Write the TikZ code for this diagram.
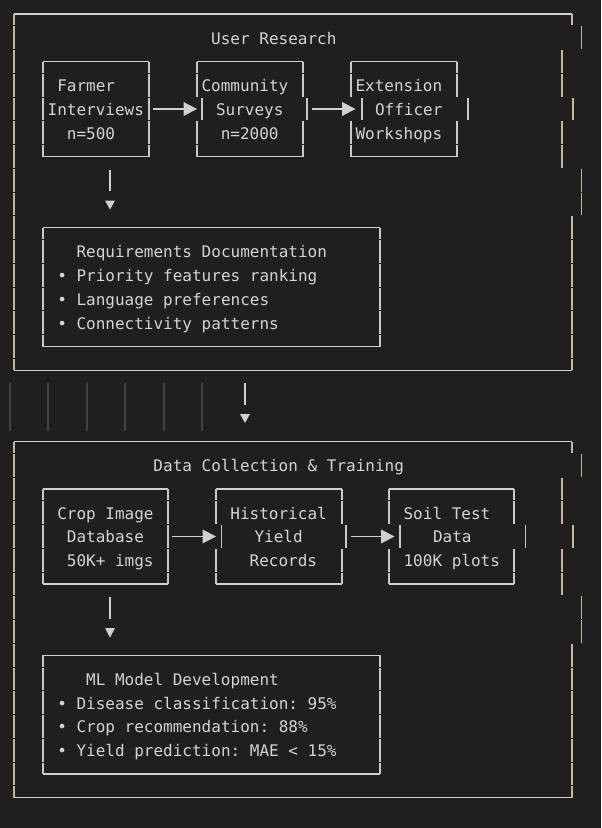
\documentclass[tikz,border=0pt]{standalone}
\usepackage{fontspec}
\setmonofont{DejaVu Sans Mono}
\usetikzlibrary{arrows.meta}
\definecolor{bg}{HTML}{1F1F1F}
\definecolor{txt}{HTML}{D4D4D4}
\definecolor{hcol}{HTML}{D0D0D0}
\definecolor{vcol}{HTML}{C4CAD0}
\definecolor{ocol}{HTML}{C8B898}
\definecolor{gcol}{HTML}{424242}
\newcommand\rowy[1]{14+23.75*(#1)}
\newcommand\cx[1]{9.19+9.62*(#1)}
\newcommand\vseg[3]{\draw[#1] (#2,{\rowy{#3}-11.3}) -- (#2,{\rowy{#3}+11.3});}
\newcommand\ascbox[5]{% style, x1, x2, row top, row bottom
  \draw[hl] (#2,{\rowy{#4}}) -- (#3,{\rowy{#4}});
  \draw[hl] (#2,{\rowy{#5}}) -- (#3,{\rowy{#5}});
  \draw[#1] (#2,{\rowy{#4}}) -- (#2,{\rowy{#4}+11.3});
  \draw[#1] (#3,{\rowy{#4}}) -- (#3,{\rowy{#4}+11.3});
  \draw[#1] (#2,{\rowy{#5}-11.3}) -- (#2,{\rowy{#5}});
  \draw[#1] (#3,{\rowy{#5}-11.3}) -- (#3,{\rowy{#5}});}
\newcommand\txt[4]{\node[lbl] (#1) at ({#2},{\rowy{#3}+6.3}) {#4};}
\begin{document}
\begin{tikzpicture}[x=0.75pt,y=-0.75pt,
  lbl/.style={anchor=base west,inner sep=0pt,outer sep=0pt,text=txt,
    font=\ttfamily\fontsize{12pt}{14pt}\selectfont},
  hl/.style={draw=hcol,line width=0.9pt},
  vl/.style={draw=vcol,line width=0.9pt},
  ol/.style={draw=ocol,line width=0.9pt},
  gl/.style={draw=gcol,line width=0.8pt},
  harrow/.style={hl,-{Triangle[length=10pt,width=10.2pt]}},
  dtri/.style={fill=hcol}]
\fill[bg] (0,0) rectangle (601,828);
\useasboundingbox (0,0) rectangle (601,828);

% ================= Section 1: outer frame =================
\ascbox{ol}{14}{572}{0}{15}
\foreach \r in {1,...,14} {\vseg{ol}{14}{\r}}
\vseg{ol}{581.5}{1}
\foreach \r in {2,3,5,6} {\vseg{ol}{562}{\r}}
\vseg{ol}{573}{4}
\vseg{ol}{581.5}{7}
\vseg{ol}{581.5}{8}
\foreach \r in {9,...,14} {\vseg{ol}{572}{\r}}

% inner boxes
\ascbox{vl}{43}{149}{2}{6}
\foreach \r in {3,4,5} {\vseg{vl}{43}{\r}\vseg{vl}{149}{\r}}
\ascbox{vl}{197}{303}{2}{6}
\foreach \r in {3,5} {\vseg{vl}{197}{\r}\vseg{vl}{303}{\r}}
\vseg{vl}{202}{4}\vseg{vl}{307}{4}
\ascbox{vl}{351}{457}{2}{6}
\foreach \r in {3,5} {\vseg{vl}{351}{\r}\vseg{vl}{457}{\r}}
\vseg{vl}{362}{4}\vseg{vl}{468}{4}
\ascbox{vl}{43}{380}{9}{14}
\foreach \r in {10,...,13} {\vseg{vl}{43}{\r}\vseg{vl}{380}{\r}}

% arrows
\coordinate (a1s) at (153,{\rowy{4}});
\coordinate (a1e) at (197,{\rowy{4}});
\draw[harrow] (a1s) -- (a1e);
\coordinate (a2s) at (312,{\rowy{4}});
\coordinate (a2e) at (355.5,{\rowy{4}});
\draw[harrow] (a2s) -- (a2e);
\coordinate (d1s) at (110,169.5);
\coordinate (d1e) at (110,191);
\draw[hl] (d1s) -- (d1e);
\fill[dtri] (105,200.5) -- (115,200.5) -- (110,209.5) -- cycle;

% texts
\txt{t1}{\cx{21}}{1}{User Research}
\txt{f1}{\cx{5}}{3}{Farmer}
\txt{f2}{\cx{4}}{4}{Interviews}
\txt{f3}{\cx{6}}{5}{n=500}
\txt{c1}{\cx{20}}{3}{Community}
\txt{c2}{216}{4}{Surveys}
\txt{c3}{\cx{22}}{5}{n=2000}
\txt{e1}{\cx{36}}{3}{Extension}
\txt{e2}{375}{4}{Officer}
\txt{e3}{\cx{36}}{5}{Workshops}
\txt{r0}{\cx{7}}{10}{Requirements Documentation}
\txt{rb1}{\cx{5}}{11}{•}
\txt{r1}{\cx{7}}{11}{Priority features ranking}
\txt{rb2}{\cx{5}}{12}{•}
\txt{r2}{\cx{7}}{12}{Language preferences}
\txt{rb3}{\cx{5}}{13}{•}
\txt{r3}{\cx{7}}{13}{Connectivity patterns}

% ================= between sections =================
\foreach \x in {10,48,87,125,164,202} {\draw[gl] (\x,383) -- (\x,431);}
\coordinate (m1s) at (245,383);
\coordinate (m1e) at (245,404.7);
\draw[hl] (m1s) -- (m1e);
\fill[dtri] (240,414) -- (250,414) -- (245,423) -- cycle;

% ================= Section 2: outer frame =================
\ascbox{ol}{14}{572}{18}{33}
\foreach \r in {19,...,32} {\vseg{ol}{14}{\r}}
\vseg{ol}{581.5}{19}
\foreach \r in {20,21,23,24} {\vseg{ol}{562}{\r}}
\vseg{ol}{573}{22}
\vseg{ol}{581.5}{25}
\vseg{ol}{581.5}{26}
\foreach \r in {27,...,32} {\vseg{ol}{572}{\r}}

% inner boxes
\ascbox{vl}{43}{168}{20}{24}
\foreach \r in {21,22,23} {\vseg{vl}{43}{\r}\vseg{vl}{168}{\r}}
\ascbox{vl}{216}{342}{20}{24}
\foreach \r in {21,23} {\vseg{vl}{216}{\r}\vseg{vl}{342}{\r}}
\vseg{vl}{221.7}{22}\vseg{vl}{346}{22}
\ascbox{vl}{389}{514}{20}{24}
\foreach \r in {21,23} {\vseg{vl}{389}{\r}\vseg{vl}{514}{\r}}
\vseg{vl}{400}{22}\vseg{vl}{525.7}{22}
\ascbox{vl}{43}{380}{27}{32}
\foreach \r in {28,...,31} {\vseg{vl}{43}{\r}\vseg{vl}{380}{\r}}

% arrows
\coordinate (a3s) at (172,{\rowy{22}});
\coordinate (a3e) at (216,{\rowy{22}});
\draw[harrow] (a3s) -- (a3e);
\coordinate (a4s) at (351,{\rowy{22}});
\coordinate (a4e) at (394.5,{\rowy{22}});
\draw[harrow] (a4s) -- (a4e);
\coordinate (d2s) at (110,597);
\coordinate (d2e) at (110,618.5);
\draw[hl] (d2s) -- (d2e);
\fill[dtri] (105,628) -- (115,628) -- (110,637.5) -- cycle;

% texts
\txt{t2}{\cx{15}}{19}{Data Collection \& Training}
\txt{p1}{\cx{5}}{21}{Crop Image}
\txt{p2}{\cx{6}}{22}{Database}
\txt{p3}{\cx{6}}{23}{50K+ imgs}
\txt{h1}{\cx{23}}{21}{Historical}
\txt{h2}{254.5}{22}{Yield}
\txt{h3}{\cx{25}}{23}{Records}
\txt{s1}{\cx{41}}{21}{Soil Test}
\txt{s2}{433}{22}{Data}
\txt{s3}{\cx{41}}{23}{100K plots}
\txt{m0}{\cx{8}}{28}{ML Model Development}
\txt{mb1}{\cx{5}}{29}{•}
\txt{m1}{\cx{7}}{29}{Disease classification: 95\%}
\txt{mb2}{\cx{5}}{30}{•}
\txt{m2}{\cx{7}}{30}{Crop recommendation: 88\%}
\txt{mb3}{\cx{5}}{31}{•}
\txt{m3}{\cx{7}}{31}{Yield prediction: MAE < 15\%}
\end{tikzpicture}
\end{document}
